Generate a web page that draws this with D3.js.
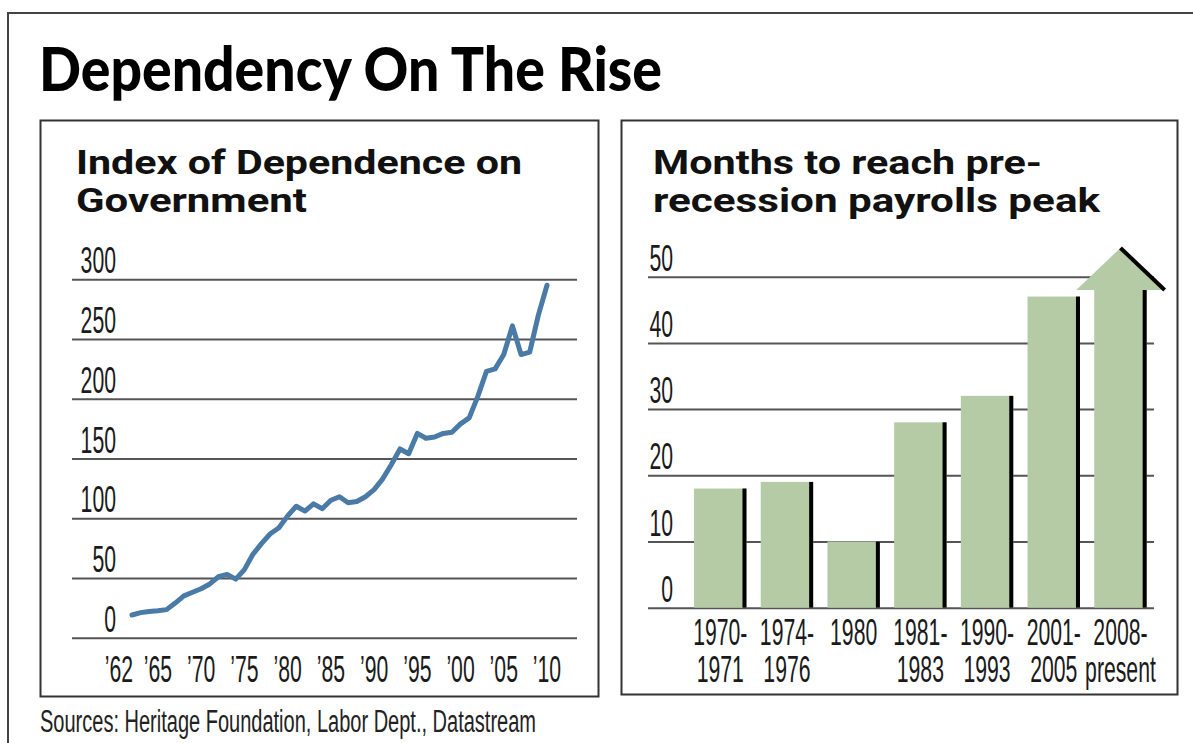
<!DOCTYPE html>
<html lang="en">
<head>
<meta charset="utf-8">
<title>Dependency On The Rise</title>
<script src="https://d3js.org/d3.v7.min.js"></script>
<style>
  body { margin: 0; background: #fff; }
</style>
</head>
<body>
<svg id="chart" width="1193" height="743"></svg>
<script>
// ---- data: left panel, Index of Dependence on Government ----
var years = [1962, 1963, 1964, 1965, 1966, 1967, 1968, 1969, 1970, 1971,
             1972, 1973, 1974, 1975, 1976, 1977, 1978, 1979, 1980, 1981,
             1982, 1983, 1984, 1985, 1986, 1987, 1988, 1989, 1990, 1991,
             1992, 1993, 1994, 1995, 1996, 1997, 1998, 1999, 2000, 2001,
             2002, 2003, 2004, 2005, 2006, 2007, 2008, 2009, 2010]
var indexValues = [19, 21, 22, 22.5, 23.5, 29, 35, 38, 41, 45,
                   51, 53, 49, 57, 70, 79, 87, 92, 102, 110,
                   106, 112, 108, 115, 118, 113, 114, 118, 124, 133,
                   145, 158, 154, 171, 167, 168, 171, 172, 179, 184,
                   202, 223, 225, 237, 261, 237, 239, 270, 295]
var yearTicks = [1962, 1965, 1970, 1975, 1980, 1985, 1990, 1995, 2000, 2005, 2010]
var yearLabels = ["’62", "’65", "’70", "’75", "’80", "’85", "’90", "’95", "’00", "’05", "’10"]
var indexTicks = [0, 50, 100, 150, 200, 250, 300]

// ---- data: right panel, months to reach pre-recession payrolls peak ----
var periods = ["1970-1971", "1974-1976", "1980", "1981-1983", "1990-1993", "2001-2005", "2008-present"]
var periodLabels = [["1970-", "1971"], ["1974-", "1976"], ["1980"], ["1981-", "1983"],
                    ["1990-", "1993"], ["2001-", "2005"], ["2008-", "present"]]
var months = [18, 19, 10, 28, 32, 47, 48]
var monthTicks = [0, 10, 20, 30, 40, 50]

// colours / fonts
var lineBlue = "#4a7aa6"
var barGreen = "#b5cba5"
var gridGray = "#555"
var ink = "#1a1a1a"
var narrow = "'Liberation Sans Narrow', 'Liberation Sans', sans-serif"
var labelSize = 36

var svg = d3.select("#chart")

// squeeze factor so a digit comes out ~11.8px wide, whatever font is found
var probe = svg.append("text").style("font-family", narrow).style("font-size", labelSize + "px").text("0123456789")
var digitW = probe.node().getComputedTextLength() / 10
probe.remove()
var sx = 11.8 / digitW

// condensed label helper (squeezed horizontally like the print font)
function cond(g, x, y, s, anchor) {
  return g.append("text")
    .attr("transform", "translate(" + x + "," + y + ") scale(" + sx + ",1)")
    .attr("text-anchor", anchor)
    .style("font-family", narrow)
    .style("font-size", labelSize + "px")
    .style("fill", ink)
    .text(s)
}

// outer frame (runs off the right and bottom)
svg.append("path")
  .attr("d", "M8,743 V13 H1193")
  .attr("fill", "none").attr("stroke", "#444").attr("stroke-width", 2)

// main title
svg.append("text")
  .attr("x", 39).attr("y", 91)
  .attr("textLength", 623).attr("lengthAdjust", "spacingAndGlyphs")
  .style("font-family", "Lato, 'Open Sans', sans-serif")
  .style("font-weight", 900).style("font-size", "61px")
  .style("fill", "#000")
  .text("Dependency On The Rise")

// panel boxes
svg.append("rect").attr("x", 40.5).attr("y", 120.5).attr("width", 558).attr("height", 576)
  .attr("fill", "none").attr("stroke", "#333").attr("stroke-width", 2)
svg.append("rect").attr("x", 621.5).attr("y", 120.5).attr("width", 556).attr("height", 574)
  .attr("fill", "none").attr("stroke", "#333").attr("stroke-width", 2)

// panel titles
function panelTitle(x, y, s, w) {
  svg.append("text").attr("x", x).attr("y", y)
    .attr("textLength", w).attr("lengthAdjust", "spacingAndGlyphs")
    .style("font-family", "Roboto, 'Noto Sans', sans-serif")
    .style("font-weight", 700).style("font-size", "33px")
    .style("fill", "#111")
    .text(s)
}
panelTitle(76, 174, "Index of Dependence on", 446)
panelTitle(76, 212, "Government", 231)
panelTitle(653, 174, "Months to reach pre-", 389)
panelTitle(653, 212, "recession payrolls peak", 447)

// ================= left: line chart =================
var xL = d3.scaleLinear().domain([1962, 2010]).range([132, 547])
var yL = d3.scaleLinear().domain([0, 300]).range([637.7, 279.3])
var gridL = { x0: 72, x1: 577 }

var left = svg.append("g")

left.append("g")
  .attr("transform", "translate(" + gridL.x0 + ",0)")
  .call(d3.axisLeft(yL).tickValues(indexTicks).tickSize(-(gridL.x1 - gridL.x0)).tickFormat(""))
  .call(function(g) {
    g.select(".domain").remove()
    g.selectAll(".tick line").attr("stroke", gridGray).attr("stroke-width", 2)
  })

indexTicks.forEach(function(t) {
  cond(left, 116, yL(t) - 6, t, "end")
})

yearTicks.forEach(function(t, i) {
  var dx = i == 0 ? -13 : 0
  cond(left, xL(t) + dx, 682, yearLabels[i], "middle")
})

var lineData = years.map(function(y, i) { return { year: y, value: indexValues[i] } })
left.append("path")
  .datum(lineData)
  .attr("fill", "none")
  .attr("stroke", lineBlue)
  .attr("stroke-width", 5)
  .attr("stroke-linejoin", "round")
  .attr("stroke-linecap", "round")
  .attr("d", d3.line().x(function(d) { return xL(d.year) }).y(function(d) { return yL(d.value) }))

// ================= right: bar chart =================
var xR = d3.scaleBand().domain(periods).range([686.9, 1153.8]).paddingInner(0.214).paddingOuter(0.107)
var yR = d3.scaleLinear().domain([0, 50]).range([607.7, 276.7])
var gridR = { x0: 648, x1: 1154 }
var edgeW = 4
var headExtra = 18, headH = 42

var right = svg.append("g")

right.append("g")
  .attr("transform", "translate(" + gridR.x0 + ",0)")
  .call(d3.axisLeft(yR).tickValues(monthTicks).tickSize(-(gridR.x1 - gridR.x0)).tickFormat(""))
  .call(function(g) {
    g.select(".domain").remove()
    g.selectAll(".tick line").attr("stroke", gridGray).attr("stroke-width", 2)
  })

monthTicks.forEach(function(t) {
  cond(right, 673, yR(t) - 6, t, "end")
})

var bw = xR.bandwidth()
var last = periods[periods.length - 1]

var bars = right.selectAll(".bar").data(periods).enter().append("g").attr("class", "bar")
bars.append("rect")
  .attr("x", function(d) { return xR(d) })
  .attr("y", function(d, i) { return yR(months[i]) })
  .attr("width", bw)
  .attr("height", function(d, i) { return yR(0) - yR(months[i]) })
  .attr("fill", barGreen)
bars.append("rect")
  .attr("x", function(d) { return xR(d) + bw - edgeW })
  .attr("y", function(d, i) { return yR(months[i]) })
  .attr("width", edgeW)
  .attr("height", function(d, i) { return yR(0) - yR(months[i]) })
  .attr("fill", "#000")

// arrow head on the last bar (recovery still under way)
var ax = xR(last), ay = yR(months[months.length - 1])
var tipX = ax + bw / 2, tipY = ay - headH
right.append("path")
  .attr("d", "M" + (ax - headExtra) + "," + ay + " L" + tipX + "," + tipY + " L" + (ax + bw + headExtra) + "," + ay + " Z")
  .attr("fill", barGreen)
right.append("line")
  .attr("x1", tipX).attr("y1", tipY)
  .attr("x2", ax + bw + headExtra).attr("y2", ay)
  .attr("stroke", "#000").attr("stroke-width", 4)

periodLabels.forEach(function(lines, i) {
  var cx = xR(periods[i]) + bw / 2
  lines.forEach(function(s, j) {
    cond(right, cx, 645 + j * 37, s, "middle")
  })
})

// source line
svg.append("text")
  .attr("x", 40).attr("y", 732)
  .attr("textLength", 496).attr("lengthAdjust", "spacingAndGlyphs")
  .style("font-family", narrow)
  .style("font-size", "31px")
  .style("fill", "#222")
  .text("Sources: Heritage Foundation, Labor Dept., Datastream")
</script>
</body>
</html>
